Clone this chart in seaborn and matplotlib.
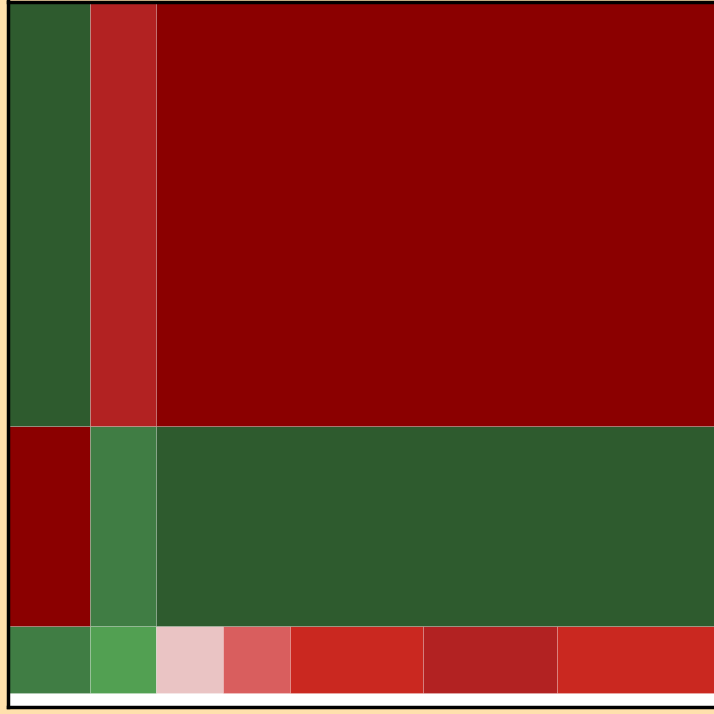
import matplotlib
matplotlib.use("Agg")
import matplotlib.pyplot as plt
import seaborn as sns
import numpy as np

sns.set_style("white")

# Mosaic data: row sizes (bottom to top) and segment sizes within each row
row_names = ["Row C", "Row B", "Row A"]
row_sizes = [67, 200, 423]
segments = {
    "Row A": [82, 66, 564],
    "Row B": [82, 66, 564],
    "Row C": [82, 66, 67, 67, 133, 134, 163],
}
levels = {
    "Row A": [0, 6, 7],
    "Row B": [7, 1, 0],
    "Row C": [1, 2, 3, 4, 5, 6, 5],
}
palette = ["#2E5B2E", "#407D44", "#52A052", "#EAC4C4",
           "#D95E5E", "#CA2820", "#B22222", "#8B0000"]

fig = plt.figure(figsize=(7.14, 7.14), dpi=100, facecolor="#FFE0AC")
ax = fig.add_axes([8 / 714, 7 / 714, 712 / 714, (714 - 1.5 - 7) / 714])
ax.set_facecolor("white")

bottom = 0
for name, h in zip(row_names, row_sizes):
    widths = np.array(segments[name], dtype=float)
    lefts = np.concatenate([[0], np.cumsum(widths)[:-1]])
    cols = [palette[i] for i in levels[name]]
    ax.bar(lefts, h, width=widths, bottom=bottom, align="edge", color=cols,
           edgecolor=(1, 1, 1, 0.18), linewidth=0.7)
    bottom += h

total_w = sum(segments["Row C"])
ax.set_xlim(0, total_w)
ax.set_ylim(-14, bottom + 1)
ax.set_xticks([])
ax.set_yticks([])
for s in ax.spines.values():
    s.set_color("black")
    s.set_linewidth(2.5)

fig.savefig("out.png", dpi=100, facecolor=fig.get_facecolor())
